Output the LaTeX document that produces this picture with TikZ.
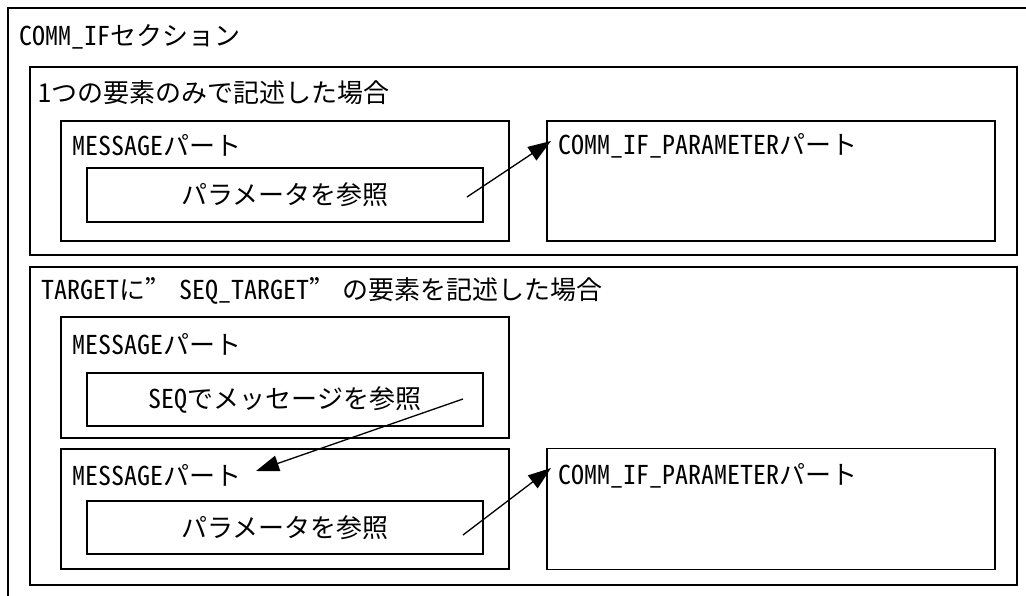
\documentclass[tikz,border=0pt]{standalone}
\usepackage{fontspec}
\setmainfont{Noto Sans CJK JP}[RawFeature=+hwid]
\usetikzlibrary{arrows.meta}

\newcommand{\fwquote}{{\addfontfeature{RawFeature=+fwid}”}}

\tikzset{
  secbox/.style={draw=black, line width=1.6pt, inner sep=0pt},
  partbox/.style={draw=black, line width=1.4pt, inner sep=0pt},
  lbl/.style={anchor=base west, inner sep=0pt},
  refarrow/.style={line width=1.3pt, -{Triangle[length=23pt,width=16pt]}}
}

\begin{document}
\begin{tikzpicture}[x=1pt, y=-1pt, font=\fontsize{26}{30}\selectfont]
  \useasboundingbox (0,0) rectangle (1026,596);
  \clip (0,0) rectangle (1026,596);

  % Section frame (cut off at right and bottom)
  \draw[line width=2.2pt] (8,8) rectangle (1040,612);
  \node[lbl] (sectitle) at (19,46) {COMM\_IFセクション};

  % Case 1: one element only
  \node[secbox, minimum width=987pt, minimum height=188pt] (caseA) at (523.5,161) {};
  \node[lbl] (caseAtxt) at (38,103) {1つの要素のみで記述した場合};
  \node[partbox, minimum width=448pt, minimum height=120pt] (msgA) at (285,181) {};
  \node[lbl] (msgAtxt) at (72,156) {MESSAGEパート};
  \node[partbox, minimum width=396pt, minimum height=54pt] (parA) at (285,195) {パラメータを参照};
  \node[partbox, minimum width=448pt, minimum height=120pt] (cpA) at (771,181) {};
  \node[lbl] (cpAtxt) at (558,155) {COMM\_IF\_PARAMETERパート};

  % Case 2: TARGET = SEQ_TARGET
  \node[secbox, minimum width=987pt, minimum height=318pt] (caseB) at (523.5,426) {};
  \node[lbl] (caseBtxt) at (41,300) {TARGETに\fwquote\hspace{0.3em}SEQ\_TARGET\fwquote\hspace{0.3em}の要素を記述した場合};
  \node[partbox, minimum width=448pt, minimum height=121pt] (msgB) at (285,377.5) {};
  \node[lbl] (msgBtxt) at (72,354) {MESSAGEパート};
  \node[partbox, minimum width=396pt, minimum height=53pt] (seqB) at (285,399.5) {SEQでメッセージを参照};
  \node[partbox, minimum width=448pt, minimum height=120pt] (msgC) at (285,509) {};
  \node[lbl] (msgCtxt) at (72,485) {MESSAGEパート};
  \node[partbox, minimum width=396pt, minimum height=53pt] (parC) at (285,527.5) {パラメータを参照};
  \node[partbox, minimum width=448pt, minimum height=121pt] (cpC) at (771,509) {};
  \node[lbl] (cpCtxt) at (558,484) {COMM\_IF\_PARAMETERパート};

  % References
  \coordinate (srcA) at (467,197);
  \coordinate (tipA) at (551,141);
  \coordinate (srcB) at (463,399);
  \coordinate (tipB) at (256,471);
  \coordinate (srcC) at (463,535);
  \coordinate (tipC) at (551,468);
  \draw[refarrow] (srcA) -- (tipA);
  \draw[refarrow] (srcB) -- (tipB);
  \draw[refarrow] (srcC) -- (tipC);
\end{tikzpicture}
\end{document}
